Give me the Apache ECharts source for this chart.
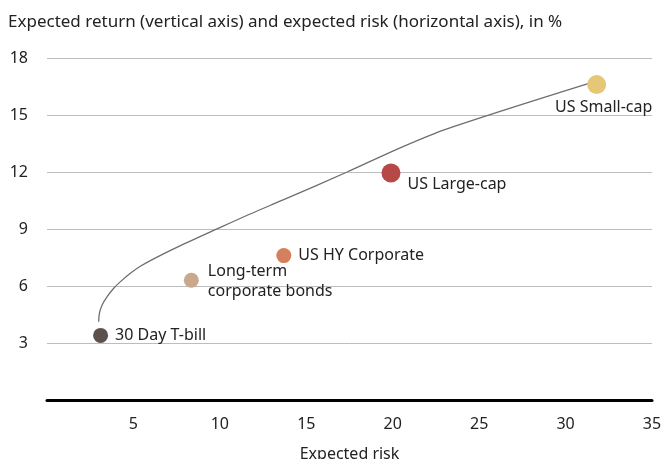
<!DOCTYPE html>
<html>
<head>
<meta charset="utf-8">
<script src="https://cdn.jsdelivr.net/npm/echarts@6/dist/echarts.min.js"></script>
<style>
  html, body { margin: 0; padding: 0; background: #fff; }
  #main { width: 662px; height: 459px; }
</style>
</head>
<body>
<div id="main"></div>
<script>
// assets: risk (x) and return (y)
var assetNames = ['30 Day T-bill', 'Long-term\ncorporate bonds', 'US HY Corporate', 'US Large-cap', 'US Small-cap'];
var assetRisk = [3.1, 8.35, 13.7, 19.9, 31.8];
var assetReturn = [3.4, 6.3, 7.6, 11.95, 16.6];
var assetColors = ['#5b524e', '#c9a88c', '#d4805f', '#b64846', '#e6c677'];
var assetSizes = [15, 15, 15, 19, 19];

// efficient frontier
var frontierRisk = [2.99, 3.03, 3.19, 3.48, 3.86, 4.25, 4.82, 5.4, 6.17, 7.6, 9.9, 11.75, 13.66, 17.36, 20.4, 23.1, 31.4];
var frontierReturn = [4.12, 4.56, 5.0, 5.44, 5.88, 6.23, 6.67, 7.04, 7.43, 8.07, 9.03, 9.79, 10.53, 12.0, 13.26, 14.26, 16.68];

var xTicks = [5, 10, 15, 20, 25, 30, 35];
var yTicks = [3, 6, 9, 12, 15, 18];

var labelPos = [
  { position: 'right', distance: 7 },
  { position: 'right', distance: 9, lineHeight: 20, offset: [0, 1] },
  { position: 'right', distance: 7 },
  { position: 'right', distance: 7, offset: [0, 11] },
  { position: 'bottom', distance: 5, offset: [7, 0] }
];

var font = 'Noto Sans';
var textColor = '#222';
var chart = echarts.init(document.getElementById('main'));

var points = assetNames.map(function (n, i) {
  return {
    name: n,
    value: [assetRisk[i], assetReturn[i]],
    symbolSize: assetSizes[i],
    itemStyle: { color: assetColors[i], opacity: 1 },
    label: Object.assign({
      show: true,
      formatter: '{b}',
      color: textColor,
      fontSize: 16,
      fontFamily: font
    }, labelPos[i])
  };
});

var option = {
  animation: false,
  title: {
    text: 'Expected return (vertical axis) and expected risk (horizontal axis), in %',
    left: 3,
    top: 9,
    textStyle: { fontFamily: font, fontSize: 17, fontWeight: 'normal', color: textColor }
  },
  grid: { left: 47, right: 10, top: 58, bottom: 59, outerBoundsMode: 'none' },
  xAxis: {
    type: 'value',
    min: 0,
    max: 35,
    interval: 5,
    name: 'Expected risk',
    nameLocation: 'middle',
    nameGap: 46,
    nameTextStyle: { fontFamily: font, fontSize: 16, color: textColor },
    axisLine: { show: true, onZero: false, lineStyle: { color: '#000', width: 3 } },
    axisTick: { show: false },
    splitLine: { show: false },
    axisLabel: {
      margin: 16,
      fontFamily: font,
      fontSize: 16,
      color: textColor,
      formatter: function (v) { return xTicks.indexOf(v) >= 0 ? v : ''; }
    }
  },
  yAxis: {
    type: 'value',
    min: 0,
    max: 18,
    interval: 3,
    axisLine: { show: false },
    axisTick: { show: false },
    splitLine: { lineStyle: { color: '#bdbdbd', width: 1 } },
    axisLabel: {
      margin: 19,
      fontFamily: font,
      fontSize: 16,
      color: textColor,
      formatter: function (v) { return yTicks.indexOf(v) >= 0 ? v : ''; }
    }
  },
  series: [
    {
      type: 'line',
      data: frontierRisk.map(function (x, i) { return [x, frontierReturn[i]]; }),
      smooth: 0.3,
      symbol: 'none',
      lineStyle: { color: '#6e6e6e', width: 1.3 },
      silent: true,
      z: 2
    },
    {
      type: 'scatter',
      data: points,
      z: 3
    }
  ]
};

chart.setOption(option);
</script>
</body>
</html>
